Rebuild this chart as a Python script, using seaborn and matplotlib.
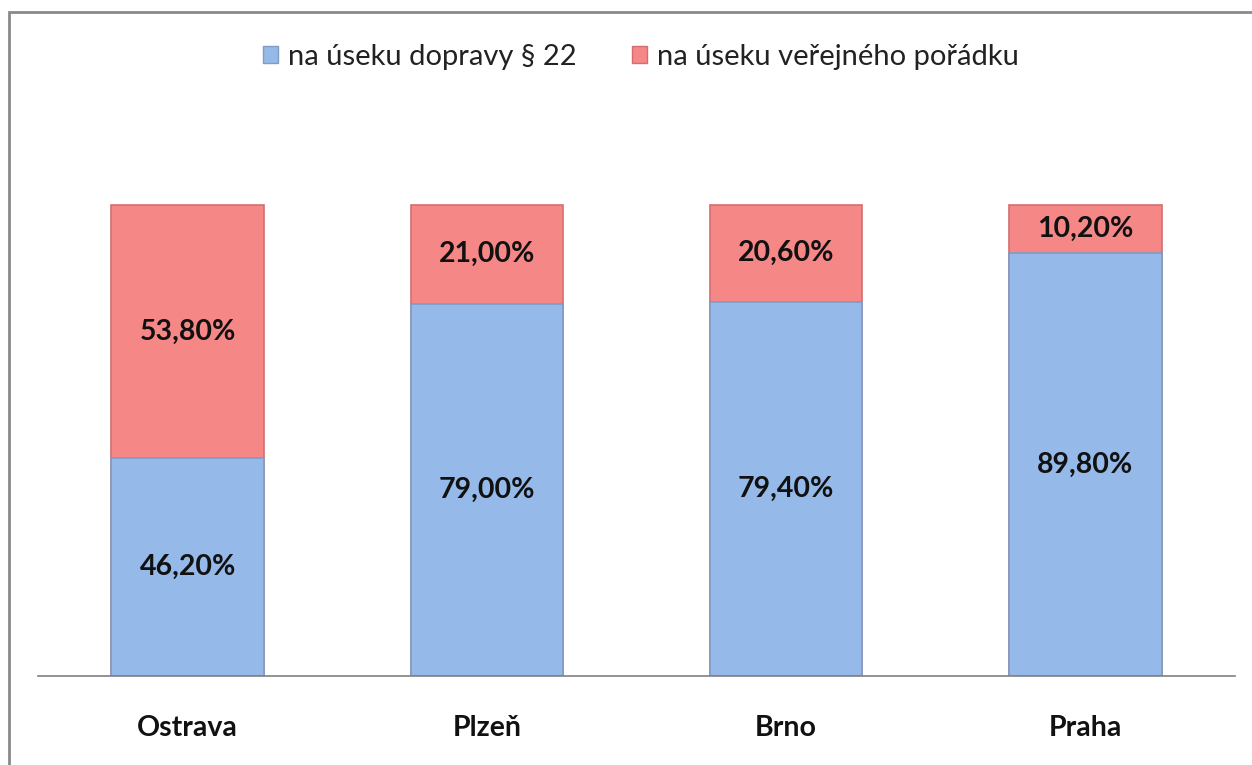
import matplotlib
matplotlib.use("Agg")
import matplotlib.pyplot as plt
import seaborn as sns
import pandas as pd
import numpy as np
from matplotlib.patches import Rectangle

cities = ["Ostrava", "Plzeň", "Brno", "Praha"]
doprava = [46.2, 79.0, 79.4, 89.8]
poradek = [53.8, 21.0, 20.6, 10.2]
series_names = ["na úseku dopravy § 22", "na úseku veřejného pořádku"]
colors = ["#95B9E8", "#F58787"]
edge_colors = ["#7F9CC4", "#D46E6E"]

sns.set_theme(style="white")
plt.rcParams["font.family"] = ["Lato", "DejaVu Sans"]

df = pd.DataFrame({"city": cities, "doprava": doprava, "poradek": poradek})
df["total"] = df["doprava"] + df["poradek"]

W, H = 1252, 765
fig = plt.figure(figsize=(W / 100, H / 100), dpi=100)
ax = fig.add_axes([38 / W, 1 - 676 / H, (1235 - 38) / W, (676 - 120) / H])

# stacked bars: draw total (red) then the blue part over it
sns.barplot(data=df, x="city", y="total", color=colors[1], width=0.51,
            edgecolor=edge_colors[1], linewidth=1.2, ax=ax, saturation=1)
sns.barplot(data=df, x="city", y="doprava", color=colors[0], width=0.51,
            edgecolor=edge_colors[0], linewidth=1.2, ax=ax, saturation=1)

ax.set_ylim(0, 118)
ax.set_xlim(-0.5, len(cities) - 0.5)

lab_fs = 20.5
for i in range(len(cities)):
    ax.text(i, doprava[i] / 2, f"{doprava[i]:.2f}%".replace(".", ","),
            ha="center", va="center", fontsize=lab_fs, fontweight="bold", color="#111111")
    ax.text(i, doprava[i] + poradek[i] / 2, f"{poradek[i]:.2f}%".replace(".", ","),
            ha="center", va="center", fontsize=lab_fs, fontweight="bold", color="#111111")

ax.set_xlabel("")
ax.set_ylabel("")
ax.set_yticks([])
ax.tick_params(axis="x", length=0, pad=28, labelsize=lab_fs)
for lab in ax.get_xticklabels():
    lab.set_fontweight("bold")
    lab.set_color("#111111")
for s in ["top", "right", "left"]:
    ax.spines[s].set_visible(False)
ax.spines["bottom"].set_color("#808080")
ax.spines["bottom"].set_linewidth(1.2)

handles = [Rectangle((0, 0), 1, 1, facecolor=colors[0], edgecolor=edge_colors[0]),
           Rectangle((0, 0), 1, 1, facecolor=colors[1], edgecolor=edge_colors[1])]
fig.legend(handles, series_names, loc="center", bbox_to_anchor=(641 / W, 1 - 57 / H),
           ncol=2, frameon=False, fontsize=21, handlelength=0.5, handleheight=0.5,
           handletextpad=0.35, columnspacing=1.9, labelcolor="#222222")

fig.patches.append(Rectangle((9 / W, -0.05), 1.2, 1 - 12 / H + 0.05,
                             transform=fig.transFigure, fill=False,
                             edgecolor="#8a8a8a", linewidth=2))

fig.savefig("out.png", dpi=100, facecolor="white")
